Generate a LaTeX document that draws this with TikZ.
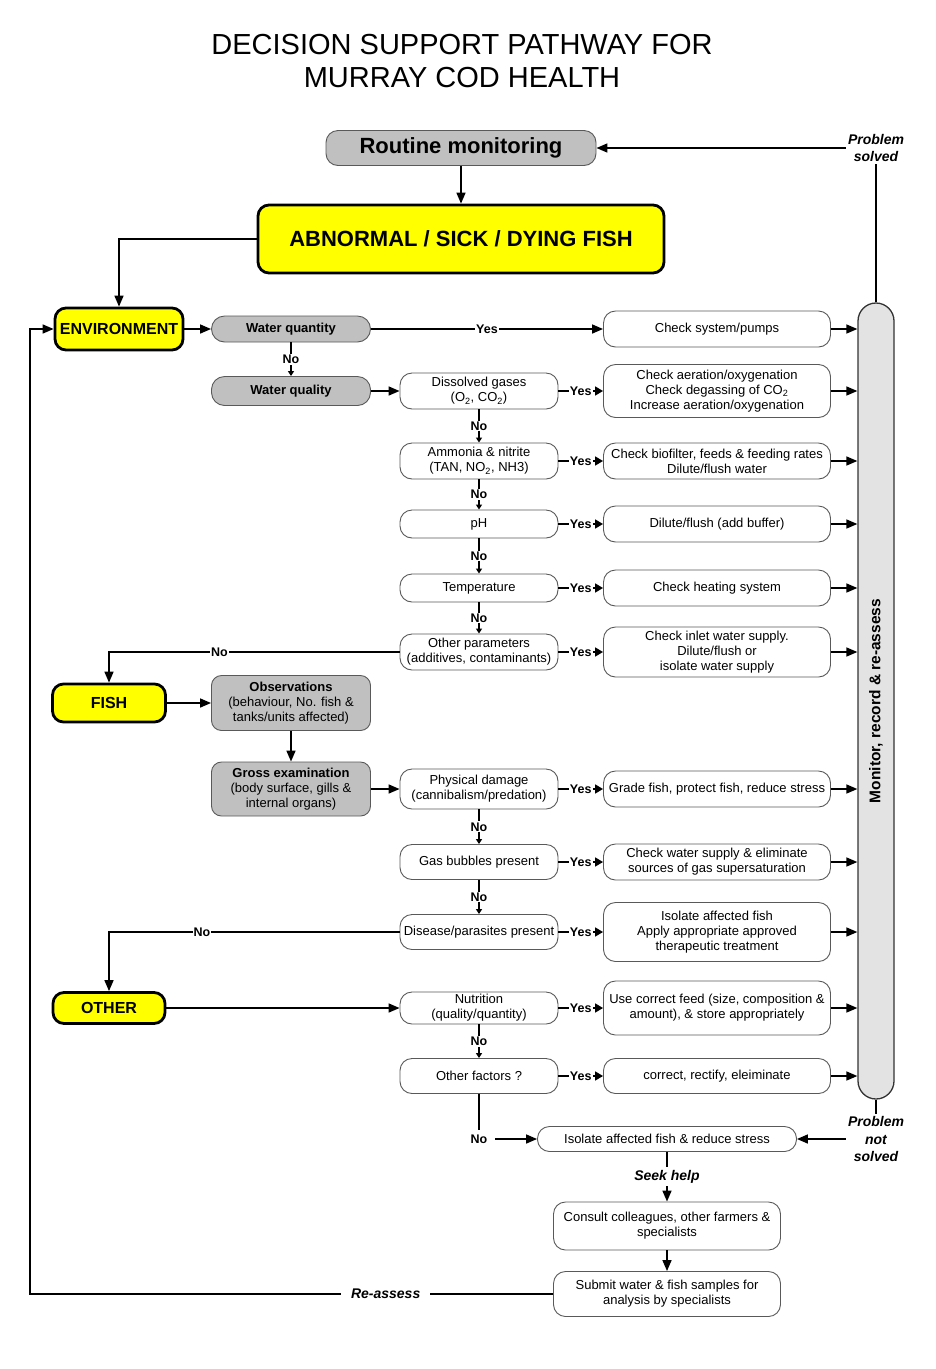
\documentclass[tikz,border=0pt]{standalone}
\usepackage{fontspec}
\setmainfont{Liberation Sans}
\usetikzlibrary{arrows.meta}
\definecolor{boxgrey}{HTML}{C0C0C0}
\definecolor{bargrey}{HTML}{E3E3E3}
\definecolor{keyyellow}{HTML}{FFFF00}

\begin{document}
\begin{tikzpicture}[x=1pt, y=-1pt,
        basebox/.style={draw=black!65, line width=0.9pt, align=center, inner sep=1pt,
            font=\fontsize{13}{15}\selectfont},
        qbox/.style={basebox, fill=white, rounded corners=12pt, minimum width=158pt, minimum height=#1},
        qbox/.default=35pt,
        abox/.style={basebox, fill=white, rounded corners=12pt, minimum width=227pt, minimum height=#1},
        abox/.default=36pt,
        greybox/.style={basebox, fill=boxgrey, rounded corners=#1, minimum width=159pt},
        greybox/.default=10pt,
        keybox/.style={draw=black, line width=2.8pt, fill=keyyellow, rounded corners=11pt,
            font=\bfseries\fontsize{16}{19}\selectfont},
        lbl/.style={fill=white, inner sep=1pt, font=\bfseries\fontsize{12.5}{14}\selectfont},
        note/.style={align=center, inner sep=2pt, font=\bfseries\itshape\fontsize{14}{17.5}\selectfont},
        link/.style={line width=1.6pt, -{Triangle[length=11pt, width=9pt]}},
        yes/.style={line width=1.6pt, -{Triangle[length=8pt, width=9pt]}},
        no/.style={line width=1.6pt, -{Triangle[length=5pt, width=6pt]}},
    ]
    \useasboundingbox (0,0) rectangle (936,1369);

    % title
    \node[align=center, font=\fontsize{29}{33}\selectfont] (title) at (462,61)
        {DECISION SUPPORT PATHWAY FOR\\MURRAY COD HEALTH};

    % top of the pathway and the monitoring bar
    \node[greybox=12pt, minimum width=270pt, minimum height=35pt,
        font=\bfseries\fontsize{22}{26}\selectfont] (routine) at (461,148) {Routine monitoring};
    \node[keybox, minimum width=406pt, minimum height=68pt,
        font=\bfseries\fontsize{22}{26}\selectfont] (abnormal) at (461,239) {ABNORMAL / SICK / DYING FISH};
    \node[basebox, fill=bargrey, draw=black!80, line width=1.3pt, rounded corners=18pt,
        minimum width=36pt, minimum height=796pt,
        label={[rotate=90, font=\bfseries\fontsize{15.5}{18}\selectfont]center:{Monitor, record \& re-assess}}]
        (monitor) at (876,701) {};
    \node[note] (solved) at (876,148) {Problem\\solved};
    \node[note] (notsolved) at (876,1139) {Problem\\not\\solved};

    % environment
    \node[keybox, minimum width=128pt, minimum height=42pt] (env) at (119,329) {ENVIRONMENT};
    \node[greybox=13pt, minimum height=26pt] (wquant) at (291,329) {\textbf{Water quantity}};
    \node[abox] (checksys) at (717,329) {Check system/pumps};
    \node[greybox=13pt, minimum height=29pt] (wqual) at (291,391) {\textbf{Water quality}};
    \node[qbox=36pt] (gases) at (479,391) {Dissolved gases\\(O\textsubscript{2}, CO\textsubscript{2})};
    \node[abox=53pt] (aerate) at (717,391)
        {Check aeration/oxygenation\\Check degassing of CO\textsubscript{2}\\Increase aeration/oxygenation};
    \node[qbox=36pt] (ammonia) at (479,461) {Ammonia \& nitrite\\(TAN, NO\textsubscript{2}, NH3)};
    \node[abox] (biofilter) at (717,461) {Check biofilter, feeds \& feeding rates\\Dilute/flush water};
    \node[qbox=28pt] (ph) at (479,524) {pH};
    \node[abox] (buffer) at (717,524) {Dilute/flush (add buffer)};
    \node[qbox=28pt] (temp) at (479,588) {Temperature};
    \node[abox] (heating) at (717,588) {Check heating system};
    \node[qbox=36pt] (otherp) at (479,652) {Other parameters\\(additives, contaminants)};
    \node[abox=50pt] (inlet) at (717,652) {Check inlet water supply.\\Dilute/flush or\\isolate water supply};

    % fish
    \node[keybox, minimum width=113pt, minimum height=38pt] (fish) at (109,703) {FISH};
    \node[greybox, minimum height=55pt] (obs) at (291,703)
        {\textbf{Observations}\\(behaviour, No. fish \&\\tanks/units affected)};
    \node[greybox, minimum height=54pt] (gross) at (291,789)
        {\textbf{Gross examination}\\(body surface, gills \&\\internal organs)};
    \node[qbox=40pt] (physical) at (479,789) {Physical damage\\(cannibalism/predation)};
    \node[abox] (grade) at (717,789) {Grade fish, protect fish, reduce stress};
    \node[qbox=35pt] (bubbles) at (479,862) {Gas bubbles present};
    \node[abox] (supply) at (717,862) {Check water supply \& eliminate\\sources of gas supersaturation};
    \node[qbox=35pt] (disease) at (479,932) {Disease/parasites present};
    \node[abox=59pt] (treat) at (717,932)
        {Isolate affected fish\\Apply appropriate approved\\therapeutic treatment};

    % other
    \node[keybox, minimum width=112pt, minimum height=31pt] (other) at (109,1008) {OTHER};
    \node[qbox=32pt] (nutrition) at (479,1008) {Nutrition\\(quality/quantity)};
    \node[abox=54pt] (feed) at (717,1008) {Use correct feed (size, composition \&\\amount), \& store appropriately};
    \node[qbox=35pt] (otherf) at (479,1076) {Other factors ?};
    \node[abox=35pt] (rectify) at (717,1076) {correct, rectify, eleiminate};

    % problem not solved
    \node[basebox, fill=white, rounded corners=12pt, minimum width=259pt, minimum height=25pt]
        (isolate) at (667,1139) {Isolate affected fish \& reduce stress};
    \node[basebox, fill=white, rounded corners=12pt, minimum width=227pt, minimum height=48pt]
        (consult) at (667,1226) {Consult colleagues, other farmers \&\\specialists};
    \node[basebox, fill=white, rounded corners=12pt, minimum width=227pt, minimum height=45pt]
        (submit) at (667,1294) {Submit water \& fish samples for\\analysis by specialists};
    \coordinate (leftturn) at (30,1294);

    % connectors
    \draw[link] (routine) -- (abnormal);
    \draw[link] (abnormal.west) -| (env.north);
    \draw[link] (env) -- (wquant);
    \draw[link] (wquant) -- node[lbl]{Yes} (checksys);
    \draw[no] (wquant) -- node[lbl]{No} (wqual);
    \draw[link] (wqual) -- (gases);
    \draw[yes] (gases) -- node[lbl]{Yes} (aerate);
    \draw[no] (gases) -- node[lbl]{No} (ammonia);
    \draw[yes] (ammonia) -- node[lbl]{Yes} (biofilter);
    \draw[no] (ammonia) -- node[lbl]{No} (ph);
    \draw[yes] (ph) -- node[lbl]{Yes} (buffer);
    \draw[no] (ph) -- node[lbl]{No} (temp);
    \draw[yes] (temp) -- node[lbl]{Yes} (heating);
    \draw[no] (temp) -- node[lbl]{No} (otherp);
    \draw[yes] (otherp) -- node[lbl]{Yes} (inlet);
    \draw[link] (otherp.west) -| node[lbl, pos=0.31]{No} (fish.north);

    \draw[link] (fish) -- (obs);
    \draw[link] (obs) -- (gross);
    \draw[link] (gross) -- (physical);
    \draw[yes] (physical) -- node[lbl]{Yes} (grade);
    \draw[no] (physical) -- node[lbl]{No} (bubbles);
    \draw[yes] (bubbles) -- node[lbl]{Yes} (supply);
    \draw[no] (bubbles) -- node[lbl]{No} (disease);
    \draw[yes] (disease) -- node[lbl]{Yes} (treat);
    \draw[link] (disease.west) -| node[lbl, pos=0.34]{No} (other.north);

    \draw[link] (other) -- (nutrition);
    \draw[yes] (nutrition) -- node[lbl]{Yes} (feed);
    \draw[no] (nutrition) -- node[lbl]{No} (otherf);
    \draw[yes] (otherf) -- node[lbl]{Yes} (rectify);
    \draw[link] (otherf.south) |- node[lbl, inner xsep=8pt, inner ysep=5pt]{No} (isolate.west);

    % into the monitoring bar
    \draw[link] (checksys.east) -- (checksys.east -| monitor.west);
    \draw[link] (aerate.east) -- (aerate.east -| monitor.west);
    \draw[link] (biofilter.east) -- (biofilter.east -| monitor.west);
    \draw[link] (buffer.east) -- (buffer.east -| monitor.west);
    \draw[link] (heating.east) -- (heating.east -| monitor.west);
    \draw[link] (inlet.east) -- (inlet.east -| monitor.west);
    \draw[link] (grade.east) -- (grade.east -| monitor.west);
    \draw[link] (supply.east) -- (supply.east -| monitor.west);
    \draw[link] (treat.east) -- (treat.east -| monitor.west);
    \draw[link] (feed.east) -- (feed.east -| monitor.west);
    \draw[link] (rectify.east) -- (rectify.east -| monitor.west);

    % out of the monitoring bar
    \draw[line width=1.6pt] (monitor.north) -- (solved.south);
    \draw[link] (solved.west) -- (routine.east);
    \draw[line width=1.6pt] (monitor.south) -- (notsolved.north);
    \draw[link] (notsolved.west) -- (isolate.east);
    \draw[link] (isolate) -- node[note, fill=white, inner ysep=3pt]{Seek help} (consult);
    \draw[link] (consult) -- (submit);
    \draw[link] (submit.west) -- node[note, fill=white, inner xsep=10pt, pos=0.32]{Re-assess} (leftturn)
        |- (env.west);
\end{tikzpicture}
\end{document}
